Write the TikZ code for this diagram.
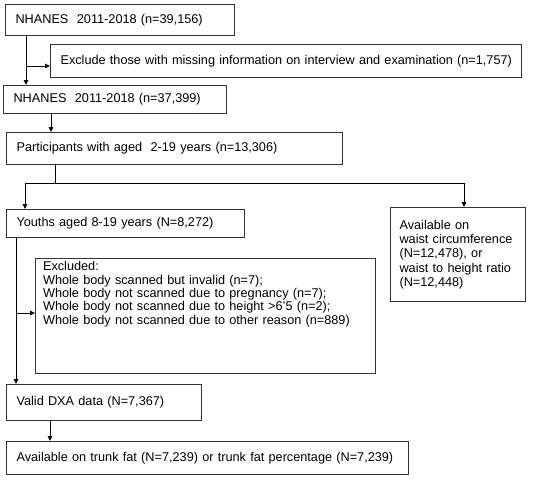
\documentclass[tikz,border=0pt]{standalone}
\usepackage{fontspec}
\setmainfont{Liberation Sans}
\usetikzlibrary{arrows.meta}
\begin{document}
\begin{tikzpicture}[x=1pt,y=-1pt,
  box/.style={draw=black!80, line width=1.1pt, anchor=north west, align=left,
    inner xsep=10pt, inner ysep=0pt, font=\fontsize{12.7pt}{13.6pt}\selectfont},
  conn/.style={line width=1pt, black},
  arr/.style={conn, -{Triangle[length=5pt,width=4.5pt]}}]
\useasboundingbox (0,0) rectangle (536,482);
\node[box, minimum width=229pt, minimum height=31pt, text width=209pt] (b1) at (5,4) {NHANES\ \ 2011-2018 (n=39,156)};
\node[box, minimum width=471pt, minimum height=33pt, text width=461pt, inner xsep=5pt] (b2) at (50,44) {\hspace*{5pt}Exclude those with missing information on interview and examination (n=1,757)};
\node[box, minimum width=223pt, minimum height=28pt, text width=203pt] (b3) at (3,85) {NHANES\ \ 2011-2018 (n=37,399)};
\node[box, minimum width=336pt, minimum height=32pt, text width=316pt] (b4) at (6,132) {Participants with aged\ \ 2-19 years (n=13,306)};
\node[box, minimum width=238pt, minimum height=28pt, text width=218pt] (b5) at (6,209) {Youths aged 8-19 years (N=8,272)};
\node[box, minimum width=135pt, minimum height=94pt, text width=117pt, inner xsep=9pt, font=\fontsize{12.7pt}{14.3pt}\selectfont] (b6) at (390,207) {Available on\\waist circumference\\(N=12,478), or\\waist to height ratio\\(N=12,448)};
\node[box, minimum width=340pt, minimum height=115pt, text width=325pt, inner xsep=7.5pt] (b7) at (35,258) {\parbox[c][111pt][t]{325pt}{\fontsize{12.7pt}{13.4pt}\selectfont\vspace{1pt}Excluded:\\Whole body scanned but invalid (n=7);\\Whole body not scanned due to pregnancy (n=7);\\Whole body not scanned due to height >6'5 (n=2);\\Whole body not scanned due to other reason (n=889)}};
\node[box, minimum width=195pt, minimum height=36pt, text width=175pt] (b8) at (6,384) {Valid DXA data (N=7,367)};
\node[box, minimum width=402pt, minimum height=33pt, text width=382pt] (b9) at (6,441) {Available on trunk fat (N=7,239) or trunk fat percentage (N=7,239)};
% connectors
\coordinate (j1) at (26,66);
\draw[arr] (26,0 |- b1.south) -- (26,0 |- b3.north);
\draw[arr] (j1) -- (b2.west |- j1);
\draw[arr] (51,0 |- b3.south) -- (51,0 |- b4.north);
\coordinate (j2) at (55,183);
\coordinate (jl) at (25,183);
\coordinate (jr) at (464,183);
\draw[conn] (55,0 |- b4.south) -- (j2);
\draw[conn] (jl) -- (jr);
\draw[arr] (jl) -- (jl |- b5.north);
\draw[arr] (jr) -- (jr |- b6.north);
\coordinate (j3) at (16,313);
\draw[arr] (16,0 |- b5.south) -- (16,0 |- b8.north);
\draw[arr] (j3) -- (b7.west |- j3);
\draw[arr] (50,0 |- b8.south) -- (50,0 |- b9.north);
\end{tikzpicture}
\end{document}
